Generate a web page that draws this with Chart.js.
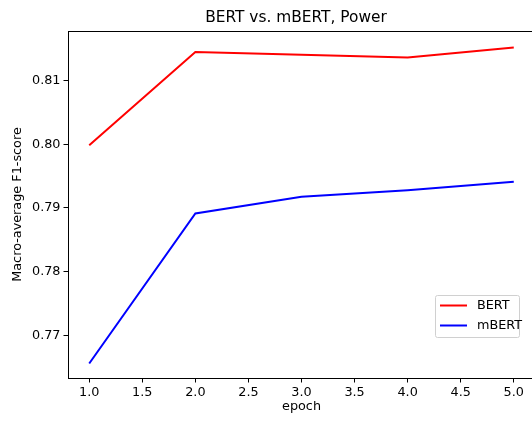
<!DOCTYPE html>
<html>
<head>
<meta charset="utf-8">
<script src="https://cdn.jsdelivr.net/npm/chart.js@4/dist/chart.umd.min.js"></script>
<style>
  html, body { margin: 0; padding: 0; background: #fff; overflow: hidden; }
  #wrap { width: 540px; height: 423px; }
</style>
</head>
<body>
<div id="wrap"><canvas id="chart" width="540" height="423"></canvas></div>
<script>
// données
const epochs = [1, 2, 3, 4, 5];
const bertScores = [0.79985, 0.81451, 0.81410, 0.81366, 0.81523];
const mbertScores = [0.76556, 0.78915, 0.79177, 0.79280, 0.79413];
const xTicks = [1.0, 1.5, 2.0, 2.5, 3.0, 3.5, 4.0, 4.5, 5.0];
const yTicks = [0.77, 0.78, 0.79, 0.80, 0.81];

const FONT = 'DejaVu Sans';
const FS = 12.8;

// cadre + titre + légende dessinés à la main (style matplotlib)
const mplExtras = {
    id: 'mplExtras',
    afterDraw(chart) {
        const { ctx, chartArea: a } = chart;
        ctx.save();
        ctx.strokeStyle = '#000';
        ctx.lineWidth = 1;
        ctx.strokeRect(Math.round(a.left) + 0.5, Math.round(a.top) + 0.5,
            Math.round(a.right - a.left), Math.round(a.bottom - a.top));

        // titre
        ctx.fillStyle = '#000';
        ctx.font = '15.4px "' + FONT + '"';
        ctx.textAlign = 'center';
        ctx.textBaseline = 'middle';
        ctx.fillText('BERT vs. mBERT, Power', 296, 18);

        // légende
        const lx = 435, ly = 295, lw = 84, lh = 42;
        ctx.fillStyle = 'rgba(255,255,255,0.8)';
        ctx.strokeStyle = '#d0d0d0';
        ctx.beginPath();
        ctx.roundRect(lx + 0.5, ly + 0.5, lw, lh, 2);
        ctx.fill();
        ctx.stroke();
        ctx.font = FS + 'px "' + FONT + '"';
        ctx.textAlign = 'left';
        chart.data.datasets.forEach((ds, i) => {
            const y = ly + 10.5 + i * 20;
            ctx.strokeStyle = ds.borderColor;
            ctx.lineWidth = 2;
            ctx.beginPath();
            ctx.moveTo(lx + 5, y);
            ctx.lineTo(lx + 32, y);
            ctx.stroke();
            ctx.fillStyle = '#000';
            ctx.fillText(ds.label, lx + 42, y);
        });
        ctx.restore();
    }
};

new Chart(document.getElementById('chart'), {
    type: 'line',
    data: {
        datasets: [{
            label: 'BERT',
            data: bertScores.map((v, i) => ({ x: epochs[i], y: v })),
            borderColor: '#ff0000',
            borderWidth: 2,
            pointRadius: 0,
            tension: 0,
            fill: false
        }, {
            label: 'mBERT',
            data: mbertScores.map((v, i) => ({ x: epochs[i], y: v })),
            borderColor: '#0000ff',
            borderWidth: 2,
            pointRadius: 0,
            tension: 0,
            fill: false
        }]
    },
    options: {
        responsive: false,
        animation: false,
        layout: { padding: { top: 31, right: 5, left: 0, bottom: 0 } },
        plugins: {
            legend: { display: false },
            title: { display: false },
            tooltip: { enabled: false }
        },
        scales: {
            x: {
                type: 'linear',
                min: 0.8,
                max: 5.2,
                afterBuildTicks: s => { s.ticks = xTicks.map(v => ({ value: v })); },
                afterFit: s => { s.height = 45; },
                grid: { display: true, drawOnChartArea: false, drawTicks: true, tickLength: 4.5, color: '#000' },
                border: { display: true, color: '#000', width: 1 },
                ticks: {
                    color: '#000',
                    padding: 2,
                    maxRotation: 0,
                    font: { family: FONT, size: FS },
                    callback: v => v.toFixed(1)
                },
                title: {
                    display: true,
                    text: 'epoch',
                    color: '#000',
                    font: { family: FONT, size: FS },
                    padding: { top: 0, bottom: 9 }
                }
            },
            y: {
                min: 0.76328,
                max: 0.81782,
                afterBuildTicks: s => { s.ticks = yTicks.map(v => ({ value: v })); },
                afterFit: s => { s.width = 68; },
                grid: { display: true, drawOnChartArea: false, drawTicks: true, tickLength: 4.5, color: '#000' },
                border: { display: true, color: '#000', width: 1 },
                ticks: {
                    color: '#000',
                    padding: 3,
                    font: { family: FONT, size: FS },
                    callback: v => v.toFixed(2)
                },
                title: {
                    display: true,
                    text: 'Macro-average F1-score',
                    color: '#000',
                    font: { family: FONT, size: FS },
                    padding: { top: 10, bottom: 0 }
                }
            }
        }
    },
    plugins: [mplExtras]
});
</script>
</body>
</html>
